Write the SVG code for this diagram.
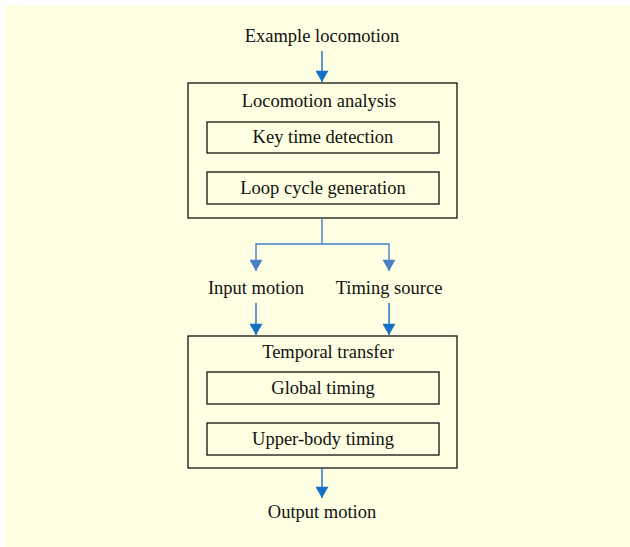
<svg xmlns="http://www.w3.org/2000/svg" width="630" height="547" viewBox="0 0 630 547">
<defs>
<style>
text{font-family:"Liberation Serif","Times New Roman",serif;font-size:18.5px;fill:#111;text-anchor:middle}
.box{fill:none;stroke:#111;stroke-width:1.3}
.dk{stroke:#1570c4;stroke-width:1.4;fill:none}
.lt{stroke:#4a7fc6;stroke-width:1.4;fill:none}
</style>
<marker id="ad" viewBox="0 0 12 14" refX="12" refY="7" markerWidth="14" markerHeight="13" markerUnits="userSpaceOnUse" orient="auto">
<path d="M0,0 L12,7 L0,14 Z" fill="#1570c4"/>
</marker>
<marker id="al" viewBox="0 0 12 14" refX="12" refY="7" markerWidth="14" markerHeight="13" markerUnits="userSpaceOnUse" orient="auto">
<path d="M0,0 L12,7 L0,14 Z" fill="#4a7fc6"/>
</marker>
</defs>
<rect x="5" y="5" width="625" height="542" fill="#fefee2"/>
<g id="n-example"><text x="322" y="42">Example locomotion</text></g>
<g id="n-analysis">
<rect class="box" x="188" y="83" width="269" height="135"/>
<text x="319" y="107">Locomotion analysis</text>
</g>
<g id="n-keytime">
<rect class="box" x="207" y="122" width="232" height="31"/>
<text x="323" y="143">Key time detection</text>
</g>
<g id="n-loop">
<rect class="box" x="207" y="172" width="232" height="32"/>
<text x="323" y="194">Loop cycle generation</text>
</g>
<g id="n-input"><text x="256" y="294">Input motion</text></g>
<g id="n-timing"><text x="389" y="294">Timing source</text></g>
<g id="n-temporal">
<rect class="box" x="188" y="336" width="269" height="132"/>
<text x="328" y="358">Temporal transfer</text>
</g>
<g id="n-global">
<rect class="box" x="207" y="372" width="232" height="32"/>
<text x="323" y="394">Global timing</text>
</g>
<g id="n-upper">
<rect class="box" x="207" y="423" width="232" height="32"/>
<text x="323" y="445">Upper-body timing</text>
</g>
<g id="n-output"><text x="322" y="518">Output motion</text></g>
<g id="connectors">
<line class="dk" x1="322" y1="51" x2="322" y2="82" marker-end="url(#ad)"/>
<path class="lt" d="M322,218 V244 H256 V271" marker-end="url(#al)"/>
<path class="lt" d="M322,244 H389 V271" marker-end="url(#al)"/>
<line class="dk" x1="256" y1="303" x2="256" y2="335" marker-end="url(#ad)"/>
<line class="dk" x1="389" y1="303" x2="389" y2="335" marker-end="url(#ad)"/>
<line class="dk" x1="322" y1="468" x2="322" y2="498" marker-end="url(#ad)"/>
</g>
</svg>
